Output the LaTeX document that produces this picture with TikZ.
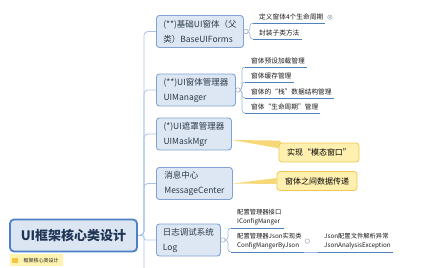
\documentclass[tikz,border=0pt]{standalone}
\usepackage{fontspec}
\newfontfamily\cjk{Noto Sans CJK SC}
\usetikzlibrary{positioning,backgrounds}

\definecolor{limbblue}{HTML}{A9C3E6}
\definecolor{twigblue}{HTML}{9DB8DE}
\definecolor{ulineblue}{HTML}{4F81BD}
\definecolor{boxline}{HTML}{7EA3D4}
\definecolor{boxfill}{HTML}{DDE7F3}
\definecolor{boxtext}{HTML}{2B3A4A}
\definecolor{coreline}{HTML}{4D7FC4}
\definecolor{corefill}{HTML}{DCE6F2}
\definecolor{coretext}{HTML}{1F3556}
\definecolor{leaftext}{HTML}{1A1A1A}
\definecolor{foldgray}{HTML}{9AA8BA}
\definecolor{calloutline}{HTML}{F0C850}
\definecolor{calloutfill}{HTML}{FFF0B0}
\definecolor{wedgefill}{HTML}{F6D878}
\definecolor{tagfill}{HTML}{FFF3B0}
\definecolor{tagicon}{HTML}{F4C542}

\begin{document}
\begin{tikzpicture}[
  x=1pt, y=-1pt,
  every node/.style={font=\cjk},
  core/.style={draw=coreline, line width=1.8pt, fill=corefill, rounded corners=4pt,
    minimum width=127pt, minimum height=32pt, text=coretext,
    font=\cjk\bfseries\fontsize{13}{15}\selectfont},
  branch/.style={draw=boxline, line width=0.9pt, fill=boxfill, rounded corners=3pt,
    anchor=west, align=left, minimum height=32pt, inner xsep=6pt, text=boxtext,
    font=\cjk\fontsize{8.5}{15}\selectfont},
  leaf/.style={anchor=south west, inner xsep=0pt, inner ysep=2.5pt, text=leaftext,
    font=\cjk\fontsize{6.7}{9}\selectfont},
  leaftwo/.style={leaf, align=left, font=\cjk\fontsize{6.3}{9.5}\selectfont},
  limb/.style={draw=limbblue, line width=0.8pt, rounded corners=4pt},
  twig/.style={draw=twigblue, line width=0.7pt, rounded corners=3pt},
  uline/.style={draw=ulineblue, line width=1pt},
  fold/.style={circle, draw=foldgray, fill=white, line width=0.5pt, inner sep=0pt,
    minimum size=4.5pt},
  dotfold/.style={fold, path picture={\fill[foldgray] (path picture bounding box.center) circle (1pt);}},
  callout/.style={draw=calloutline, fill=calloutfill, rounded corners=3pt, line width=0.8pt,
    minimum width=80pt, minimum height=19pt, text=black,
    font=\cjk\fontsize{8}{10}\selectfont},
  wedge/.style={fill=wedgefill},
  tagbox/.style={fill=tagfill, anchor=north west, minimum width=53pt, minimum height=12pt,
    inner xsep=2pt, inner ysep=0pt, text=leaftext, font=\cjk\fontsize{5}{6}\selectfont},
  tagmark/.style={fill=tagicon, minimum width=6pt, minimum height=5pt, inner sep=0pt}
]
\useasboundingbox (0,0) rectangle (424,268);

% central topic
\node[core] (core) at (73.5,235.5) {UI框架核心类设计};
\node[tagbox] (tag) at (10,254) {\hspace*{9pt}框架核心类设计};
\node[tagmark] (tagicon) at ([xshift=5pt]tag.west) {};

% main branches
\node[branch, minimum width=87pt] (b1) at (156,31.5) {(**)基础UI窗体（父\\类）BaseUIForms};
\node[branch, minimum width=79pt] (b2) at (156,90) {(**)UI窗体管理器\\UIManager};
\node[branch, minimum width=75pt] (b3) at (156,134) {(*)UI遮罩管理器\\UIMaskMgr};
\node[branch, minimum width=76pt] (b4) at (156,183.5) {消息中心\\MessageCenter};
\node[branch, minimum width=64pt] (b5) at (156,240) {日志调试系统\\Log};

% sub topics
\node[leaf] (l11) at (259,23) {定义窗体4个生命周期};
\node[leaf] (l12) at (259,39) {封装子类方法};
\node[leaf] (l21) at (251,67) {窗体预设加载管理};
\node[leaf] (l22) at (251,82) {窗体缓存管理};
\node[leaf] (l23) at (251,98) {窗体的“栈”数据结构管理};
\node[leaf] (l24) at (251,113) {窗体“生命周期”管理};
\node[leaftwo] (l51) at (237,228) {配置管理器接口\\IConfigManger};
\node[leaftwo] (l52) at (237,252) {配置管理器Json实现类\\ConfigMangerByJson};
\node[leaftwo] (l53) at (324,252) {Json配置文件解析异常\\JsonAnalysisException};
\foreach \n in {l11,l12,l21,l22,l23,l24,l51,l52,l53}
  \draw[uline] ([xshift=-6pt]\n.south west) -- ([xshift=2pt]\n.south east);

% notes
\node[callout] (c1) at (319,152.5) {实现“模态窗口”};
\node[callout] (c2) at (317,181) {窗体之间数据传递};

% fold markers
\node[fold] (f1) at ([xshift=2pt]b1.east) {};
\node[fold] (f2) at ([xshift=2pt]b2.east) {};
\node[fold] (f5) at ([xshift=2pt]b5.east) {};
\node[fold, right=3pt of l52] (f52) {};
\node[dotfold, right=4pt of l11] (m11) {};

\begin{pgfonlayer}{background}
\foreach \b in {b1,b2,b3,b4}
  \draw[limb] (core.east) -- ++(6,0) |- (\b.west);
\draw[limb, rounded corners=2pt] (core.east) -- ++(6,0) |- (b5.west);
\coordinate (tail) at (144,268);
\draw[limb] ([xshift=6pt]core.east) -- (tail);
\foreach \l in {l11,l12}
  \draw[twig] (b1.east) -- ++(6,0) |- ([xshift=-6pt]\l.south west);
\foreach \l in {l21,l22,l23,l24}
  \draw[twig] (b2.east) -- ++(6,0) |- ([xshift=-6pt]\l.south west);
\foreach \l in {l51,l52}
  \draw[twig] (b5.east) -- ++(7,0) |- ([xshift=-6pt]\l.south west);
\draw[twig] ([xshift=2pt]l52.south east) -- ([xshift=-6pt]l53.south west);
\fill[wedge] ([yshift=-6pt]b3.east) -- ([xshift=2pt,yshift=2pt]c1.north west)
  -- ([xshift=2pt,yshift=-6pt]c1.north west) -- cycle;
\fill[wedge] (b4.east) -- ([yshift=3pt]c2.west) -- ([yshift=-3pt]c2.west) -- cycle;
\end{pgfonlayer}
\end{tikzpicture}
\end{document}
